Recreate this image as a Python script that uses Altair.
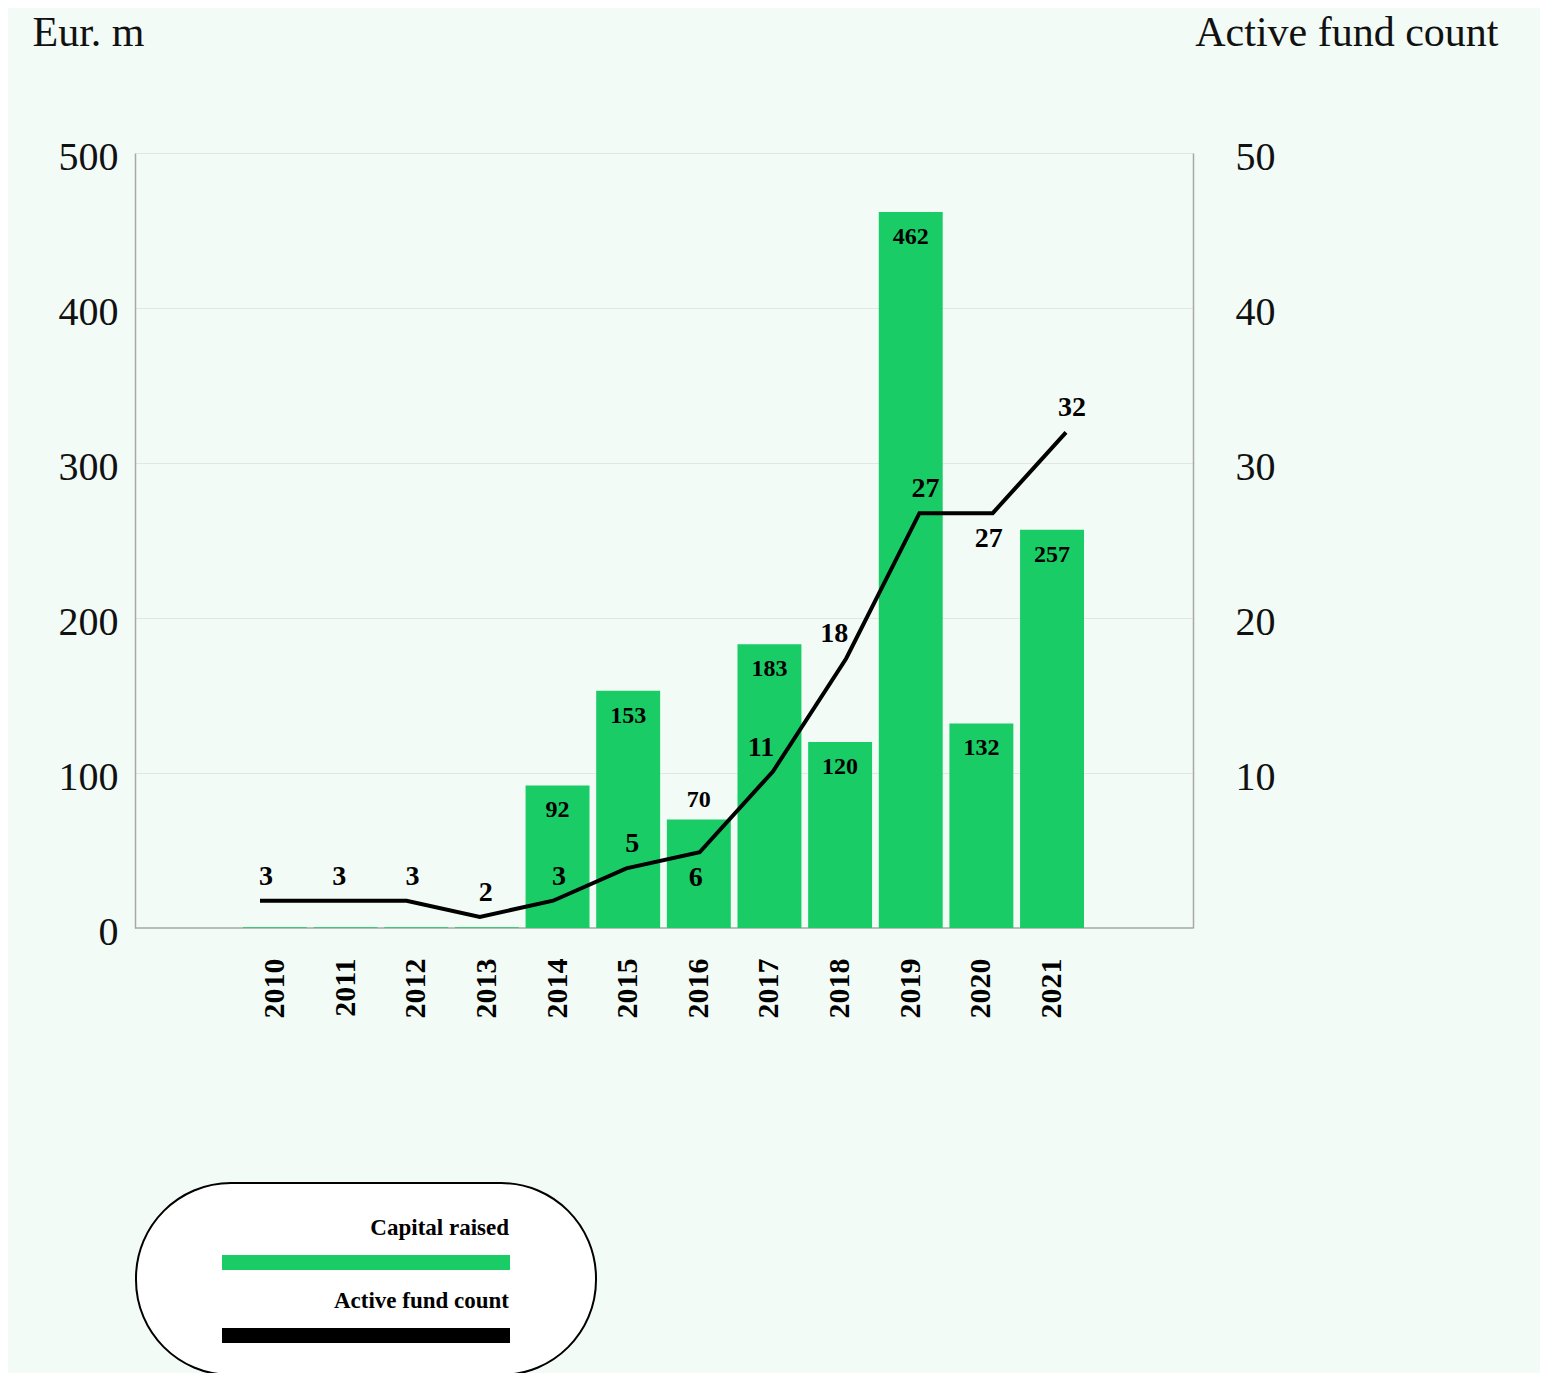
import altair as alt
import pandas as pd

# ---- data ----
years = [2010, 2011, 2012, 2013, 2014, 2015, 2016, 2017, 2018, 2019, 2020, 2021]
capital_raised = [0.5, 0.5, 0.5, 0.5, 92, 153, 70, 183, 120, 462, 132, 257]
fund_count = [3, 3, 3, 2, 3, 5, 6, 11, 18, 27, 27, 32]
series_names = ["Capital raised", "Active fund count"]
left_ticks = [0, 100, 200, 300, 400, 500]
right_ticks = [10, 20, 30, 40, 50]
baseline_value = [0]

# ---- styling ----
BG = "#f3fbf6"
GREEN = "#19cc66"
INK = "#000000"
FONT = "Liberation Serif"
AXIS_GREY = "#a8a8a8"
GRID = "#e4e6e4"
W, H = 1058, 775

df = pd.DataFrame({
    "year": years,
    "capital": capital_raised,
    "count": fund_count,
    "series": series_names[0],
})
base_df = pd.DataFrame({"v": baseline_value})

base = alt.Chart(df)

# label placement groups (annotation layout only)
bar_label_above_years = [2016]
count_label_below_years = [2016, 2020]
count_label_upleft_years = [2017, 2018]

# ---- bars on left axis ----
x_band = alt.X(
    "year:O",
    scale=alt.Scale(range=[108, 949], paddingInner=0.095, paddingOuter=0),
    axis=alt.Axis(
        title=None, labelAngle=270, labelFont=FONT, labelFontSize=30,
        labelFontWeight="bold", labelColor=INK, labelPadding=30,
        ticks=False, tickSize=0, domain=False,
    ),
)
y_left = alt.Y(
    "capital:Q",
    scale=alt.Scale(domain=[0, 500], nice=False),
    axis=alt.Axis(
        title="Eur. m", values=left_ticks, grid=False,
        domainColor=AXIS_GREY, domainWidth=1.5, ticks=False,
        labelFont=FONT, labelFontSize=40, labelColor="#111", labelPadding=17,
        labelOffset=4,
        titleAngle=0, titleX=-103, titleY=-108, titleAlign="left",
        titleBaseline="alphabetic", titleFont=FONT, titleFontSize=42,
        titleFontWeight="normal", titleColor="#111",
    ),
)

# legend swatch: a wide bar below the label; the lone move-to points only
# widen the entry box so the rounded legend frame gets its side margins
legend_path = ("M-1,-1 "
               "M1.7,1 L16.1,1 L16.1,1.75 L1.7,1.75 Z "
               "M18.8,1.75")

bars = base.mark_bar().encode(
    x=x_band,
    y=y_left,
    color=alt.Color(
        "series:N",
        scale=alt.Scale(domain=series_names, range=[GREEN, INK]),
        legend=alt.Legend(
            title=None, orient="none", legendX=1, legendY=1030,
            fillColor="white", strokeColor="black", cornerRadius=95,
            padding=32, rowPadding=18, symbolType=legend_path,
            symbolSize=1600, symbolStrokeWidth=0, labelAlign="right",
            labelBaseline="alphabetic", labelOffset=301, labelFont=FONT,
            labelFontSize=23, labelFontWeight="bold", labelColor=INK,
            labelLimit=400,
        ),
    ),
)

bar_text = base.transform_filter(
    f"datum.capital >= 1 && indexof({bar_label_above_years}, datum.year) < 0"
).mark_text(font=FONT, fontSize=24, fontWeight="bold", baseline="middle",
            dy=25, color=INK).encode(
    x=alt.X("year:O"), y=alt.Y("capital:Q"), text="capital:Q")

bar_text_above = base.transform_filter(
    f"indexof({bar_label_above_years}, datum.year) >= 0"
).mark_text(font=FONT, fontSize=24, fontWeight="bold", baseline="middle",
            dy=-20, color=INK).encode(
    x=alt.X("year:O"), y=alt.Y("capital:Q"), text="capital:Q")

bar_layer = alt.layer(bars, bar_text, bar_text_above)

# ---- fund count line ----
x_pt = alt.X("year:O", scale=alt.Scale(type="point", range=[125, 931], padding=0),
             axis=None)
y_line = alt.Y("count:Q", scale=alt.Scale(domain=[1.31, 49.3], nice=False, zero=False),
               axis=None)

line = base.mark_line(color=INK, strokeWidth=4).encode(x=x_pt, y=y_line)

other = count_label_below_years + count_label_upleft_years
lt_above = base.transform_filter(
    f"indexof({other}, datum.year) < 0"
).mark_text(font=FONT, fontSize=28, fontWeight="bold", baseline="middle",
            dy=-24, dx=6, color=INK).encode(x=x_pt, y=y_line, text="count:Q")
lt_below = base.transform_filter(
    f"indexof({count_label_below_years}, datum.year) >= 0"
).mark_text(font=FONT, fontSize=28, fontWeight="bold", baseline="middle",
            dy=26, dx=-4, color=INK).encode(x=x_pt, y=y_line, text="count:Q")
lt_upleft = base.transform_filter(
    f"indexof({count_label_upleft_years}, datum.year) >= 0"
).mark_text(font=FONT, fontSize=28, fontWeight="bold", baseline="middle",
            dy=-24, dx=-12, color=INK).encode(x=x_pt, y=y_line, text="count:Q")

line_layer = alt.layer(line, lt_above, lt_below, lt_upleft)

# ---- right axis (fund count scale), grid and baseline ----
right_axis = alt.Chart(base_df).mark_rule(color=AXIS_GREY, strokeWidth=1.5).encode(
    y=alt.Y(
        "v:Q",
        scale=alt.Scale(domain=[0, 50], nice=False),
        axis=alt.Axis(
            orient="right", title="Active fund count", values=right_ticks,
            grid=True, gridColor=GRID, ticks=False, domainColor=AXIS_GREY,
            domainWidth=1.5,
            labelFont=FONT, labelFontSize=40, labelColor="#111",
            labelPadding=42, labelOffset=4,
            titleAngle=0, titleX=305, titleY=-108, titleAlign="right",
            titleBaseline="alphabetic", titleFont=FONT, titleFontSize=42,
            titleFontWeight="normal", titleColor="#111",
        ),
    )
)

chart = alt.layer(right_axis, bar_layer, line_layer).resolve_scale(
    x="independent", y="independent"
).properties(
    width=W, height=H,
    padding={"left": 24, "top": 3, "right": 42, "bottom": 0},
    background=BG,
).configure_view(stroke=None).configure_legend(strokeWidth=2)

chart.save("out.html", embed_options={"renderer": "svg", "actions": False})
